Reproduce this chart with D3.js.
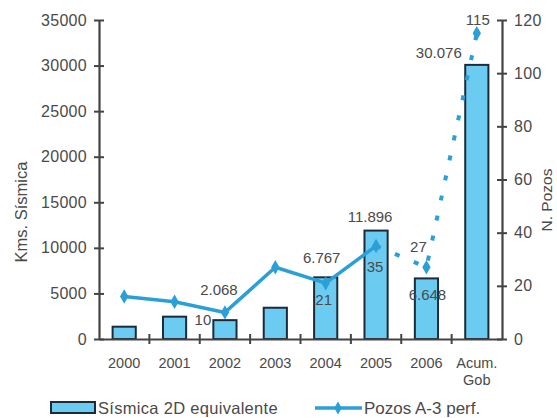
<!DOCTYPE html>
<html>
<head>
<meta charset="utf-8">
<script src="https://cdn.jsdelivr.net/npm/d3@7"></script>
<style>
  html, body { margin: 0; padding: 0; background: #fff; }
  svg { display: block; font-family: "Liberation Sans", Arial, sans-serif; }
</style>
</head>
<body>
<svg id="chart" width="557" height="418"></svg>
<script>
// ---- data ----
const categories = ["2000", "2001", "2002", "2003", "2004", "2005", "2006", "Acum.\nGob"];
const sismica = [1350, 2450, 2068, 3430, 6767, 11896, 6648, 30076];
const pozos = [16, 14, 10, 27, 21, 35, 27, 115];
const leftTicks = [0, 5000, 10000, 15000, 20000, 25000, 30000, 35000];
const rightTicks = [0, 20, 40, 60, 80, 100, 120];
const barLabels = [null, null, "2.068", null, "6.767", "11.896", "6.648", "30.076"];
const lineLabels = [null, null, "10", null, "21", "35", "27", "115"];
const seriesNames = ["Sísmica 2D equivalente", "Pozos A-3 perf."];
const axisTitles = ["Kms. Sísmica", "N. Pozos"];

// ---- style / layout ----
const barOff = [null, null, [-6, -30], null, [-4, -20], [-6, -14], [1, 16], [-38, -12]];
const lineOff = [null, null, [-22, 7], null, [-2, 17], [-1, 21], [-8, -20], [1, -14]];
const lineColor = "#2a9fd8";
const barFill = "#6ccbf0";
const barStroke = "#1c2b3a";
const axisColor = "#444";
const textColor = "#4a4a4a";

const svg = d3.select("#chart");
const x = d3.scaleBand().domain(categories).range([99, 502]).paddingInner(0.54).paddingOuter(0.27);
const yL = d3.scaleLinear().domain([0, 35000]).range([339, 20]);
const yR = d3.scaleLinear().domain([0, 120]).range([339, 20]);

// bars
svg.append("g").selectAll("rect").data(categories).join("rect")
  .attr("x", d => x(d))
  .attr("y", (d, i) => yL(sismica[i]))
  .attr("width", x.bandwidth())
  .attr("height", (d, i) => yL(0) - yL(sismica[i]))
  .attr("fill", barFill)
  .attr("stroke", barStroke)
  .attr("stroke-width", 2);

// axes
const axes = svg.append("g");
const leftAxis = d3.axisLeft(yL).tickValues(leftTicks).tickSize(0).tickPadding(12).tickFormat(d3.format("d"));
const gL = axes.append("g").attr("transform", "translate(99,0)").call(leftAxis);
const rightAxis = d3.axisRight(yR).tickValues(rightTicks).tickSize(0).tickPadding(12);
const gR = axes.append("g").attr("transform", "translate(502,0)").call(rightAxis);
[gL, gR].forEach(g => {
  g.select(".domain").attr("stroke", axisColor).attr("stroke-width", 2.2);
  g.selectAll(".tick text").attr("fill", textColor).attr("font-size", 16)
    .attr("font-family", "Liberation Sans, Arial, sans-serif").attr("letter-spacing", "0.3px");
  g.selectAll(".tick").append("line").attr("x1", -5).attr("x2", 5)
    .attr("stroke", axisColor).attr("stroke-width", 2);
});

// x axis
const xa = d3.axisBottom(x).tickSize(0).tickFormat("");
const gX = axes.append("g").attr("transform", "translate(0,339)").call(xa);
gX.select(".domain").attr("stroke", axisColor).attr("stroke-width", 2.2);
gX.selectAll(".tick").remove();
const step = x.step();
const bounds = d3.range(1, categories.length).map(i => x(categories[i]) - x.paddingInner() * step / 2);
gX.selectAll("line.sep").data(bounds).join("line").attr("class", "sep")
  .attr("x1", d => d).attr("x2", d => d).attr("y1", -5).attr("y2", 5)
  .attr("stroke", axisColor).attr("stroke-width", 2);
const xl = svg.append("g").selectAll("text").data(categories).join("text")
  .attr("x", d => x(d) + x.bandwidth() / 2)
  .attr("y", 368)
  .attr("text-anchor", "middle")
  .attr("font-size", 14.5)
  .attr("fill", textColor);
xl.each(function(d) {
  const lines = d.split("\n");
  const t = d3.select(this);
  lines.forEach((l, k) => t.append("tspan").attr("x", x(d) + x.bandwidth() / 2).attr("dy", k === 0 ? 0 : 17).text(l));
});

// line
const pts = categories.map((c, i) => [x(c) + x.bandwidth() / 2, yR(pozos[i])]);
const line = d3.line();
svg.append("path").attr("d", line(pts.slice(0, 6)))
  .attr("fill", "none").attr("stroke", lineColor).attr("stroke-width", 3.5).attr("stroke-linejoin", "round");
svg.append("path").attr("d", line(pts.slice(5)))
  .attr("fill", "none").attr("stroke", lineColor).attr("stroke-width", 4)
  .attr("stroke-dasharray", "5,15.5");
svg.append("g").selectAll("path").data(pts).join("path")
  .attr("transform", d => `translate(${d[0]},${d[1]})`)
  .attr("d", d3.symbol(d3.symbolDiamond, 60)())
  .attr("fill", lineColor);

// data labels
const lbl = svg.append("g").attr("font-size", 15).attr("fill", textColor).attr("text-anchor", "middle");
categories.forEach((c, i) => {
  const cx = x(c) + x.bandwidth() / 2;
  if (barLabels[i]) {
    lbl.append("text").attr("x", cx + barOff[i][0]).attr("y", yL(sismica[i]) + barOff[i][1])
      .attr("dy", "0.35em").text(barLabels[i]);
  }
  if (lineLabels[i]) {
    lbl.append("text").attr("x", cx + lineOff[i][0]).attr("y", yR(pozos[i]) + lineOff[i][1])
      .attr("dy", "0.35em").text(lineLabels[i]);
  }
});

// axis titles
svg.append("text").attr("transform", "translate(21,212) rotate(-90)")
  .attr("text-anchor", "middle").attr("dy", "0.35em").attr("font-size", 16.5).attr("fill", textColor).text(axisTitles[0]);
svg.append("text").attr("transform", "translate(547,200) rotate(-90)")
  .attr("text-anchor", "middle").attr("dy", "0.35em").attr("font-size", 15.5).attr("fill", textColor).text(axisTitles[1]);

// legend
const lg = svg.append("g");
lg.append("rect").attr("x", 51).attr("y", 402).attr("width", 44).attr("height", 11)
  .attr("fill", barFill).attr("stroke", barStroke).attr("stroke-width", 2);
lg.append("text").attr("x", 98).attr("y", 408).attr("dy", "0.35em").attr("font-size", 16.5)
  .attr("fill", textColor).attr("letter-spacing", "0.3px").text(seriesNames[0]);
lg.append("line").attr("x1", 315).attr("x2", 362).attr("y1", 408).attr("y2", 408)
  .attr("stroke", lineColor).attr("stroke-width", 3.5);
lg.append("path").attr("transform", "translate(338,408)").attr("d", d3.symbol(d3.symbolDiamond, 50)()).attr("fill", lineColor);
lg.append("text").attr("x", 364).attr("y", 408).attr("dy", "0.35em").attr("font-size", 17)
  .attr("fill", textColor).text(seriesNames[1]);
</script>
</body>
</html>
